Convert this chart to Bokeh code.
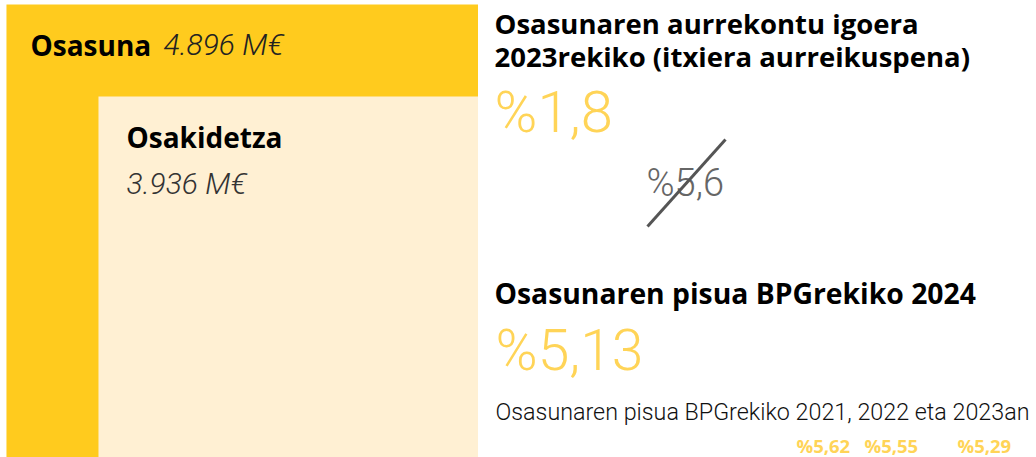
from bokeh.plotting import figure
from bokeh.layouts import row
from bokeh.models import Range1d, ColumnDataSource
from bokeh.core.properties import value
from bokeh.embed import file_html
from bokeh.resources import INLINE
import math

# ---- data ----
budget_labels = ["Osasuna", "Osakidetza"]
budget_values = [4896, 3936]          # M€
budget_colors = ["#FFCB1E", "#FFF0D3"]

growth_title = ["Osasunaren aurrekontu igoera", "2023rekiko (itxiera aurreikuspena)"]
growth_actual = 1.8                   # %
growth_planned = 5.6                  # % (struck out)

gdp_title = "Osasunaren pisua BPGrekiko 2024"
gdp_share_2024 = 5.13                 # %
gdp_sub = "Osasunaren pisua BPGrekiko 2021,  2022 eta 2023an"
gdp_years = ["2021", "2022", "2023"]
gdp_share_prev = [5.62, 5.55, 5.29]   # %

BOLD = value("Open Sans")
LIGHT = value("Roboto Light")
YELLOW_TXT = "#FFD457"


def pct(v, nd):
    return "%" + f"{v:.{nd}f}".replace(".", ",")


def meur(v):
    return f"{v:,}".replace(",", ".") + " M€"


def clean(p):
    p.axis.visible = False
    p.grid.visible = False
    p.outline_line_color = None
    p.min_border = 0
    p.background_fill_color = "white"
    p.border_fill_color = "white"


def txt(p, xs, base, texts, fs, font, color, style="normal"):
    # base: desired baseline; shift compensates rendered baseline offset
    ys = [b - 0.35 * fs for b in base]
    p.text(x=xs, y=ys, text=texts, text_font=font, text_font_style=style,
           text_font_size=f"{fs}px", text_color=color, text_baseline="alphabetic")


H = 457

# ---- left panel: nested squares (area ~ value) ----
left = figure(width=478, height=H, x_range=Range1d(0, 478), y_range=Range1d(H, 0),
              output_backend="svg", toolbar_location=None)
clean(left)

k = 12.72          # px per sqrt(M€)
cx, cy = 896, 894  # shared bottom-right corner
sides = [math.sqrt(v) * k for v in budget_values]
sq = ColumnDataSource(dict(
    left=[cx - s for s in sides], right=[cx] * 2,
    top=[cy - s for s in sides], bottom=[cy] * 2, color=budget_colors))
left.quad(left="left", right="right", top="top", bottom="bottom", source=sq,
          fill_color="color", line_color=None)

txt(left, [30], [54], [budget_labels[0]], 28, BOLD, "#000000", "bold")
txt(left, [163], [54], [meur(budget_values[0])], 30, LIGHT, "#222222", "italic")
txt(left, [126], [146], [budget_labels[1]], 28, BOLD, "#000000", "bold")
txt(left, [126], [193], [meur(budget_values[1])], 30, LIGHT, "#333333", "italic")

# ---- right panel: text figures ----
right = figure(width=1036 - 478, height=H, x_range=Range1d(478, 1036), y_range=Range1d(H, 0),
               output_backend="svg", toolbar_location=None)
clean(right)

txt(right, [494, 494], [33, 66], growth_title, 27.5, BOLD, "#000000", "bold")
txt(right, [494], [132], [pct(growth_actual, 1)], 58, LIGHT, YELLOW_TXT)
txt(right, [646], [196], [pct(growth_planned, 1)], 38, LIGHT, "#666666")
right.segment(x0=[647], y0=[226], x1=[725], y1=[139], line_color="#555555", line_width=3)

txt(right, [494], [302], [gdp_title], 28.3, BOLD, "#000000", "bold")
txt(right, [495], [370], [pct(gdp_share_2024, 2)], 57, LIGHT, YELLOW_TXT)
txt(right, [495], [420], [gdp_sub], 23.3, LIGHT, "#111111")
txt(right, [796, 864, 957], [451] * 3, [pct(v, 2) for v in gdp_share_prev], 18.5, BOLD, YELLOW_TXT, "bold")

layout = row(left, right, spacing=0)
open("out.html", "w").write(file_html(layout, INLINE))
